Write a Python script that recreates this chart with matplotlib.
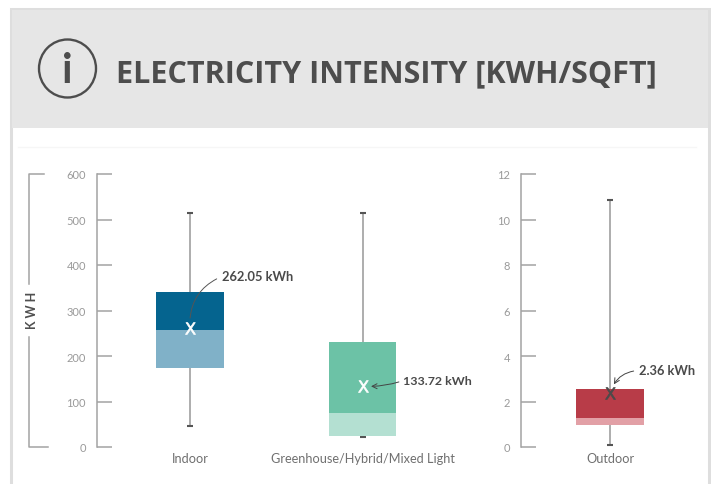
import matplotlib
matplotlib.use("Agg")
import matplotlib.pyplot as plt
from matplotlib.patches import Rectangle, Ellipse

W, H = 711, 485

categories = ["Indoor", "Greenhouse/Hybrid/Mixed Light"]
whisker_low = [46, 21]
q1 = [173, 25]
median = [256.5, 74]
q3 = [340.5, 231]
whisker_high = [515, 515]
means = [262.05, 133.72]
dark_colors = ["#05648f", "#6cc2a6"]
light_colors = ["#80b1c8", "#b4e0d2"]
left_ticks = [0, 100, 200, 300, 400, 500, 600]

out_category = ["Outdoor"]
out_whisker_low = [0.09]
out_q1 = [0.95]
out_median = [1.29]
out_q3 = [2.53]
out_whisker_high = [10.87]
out_means = [2.36]
out_ticks = [0, 2, 4, 6, 8, 10, 12]

axis_color = "#a3a3a3"
tick_text = "#9a9a9a"
label_text = "#707070"
note_text = "#4a4a4a"
font = "Lato"
x_mark = r"$\mathrm{X}$"

fig = plt.figure(figsize=(W / 100, H / 100), dpi=100)

# card background, drawn in pixel coordinates
bg = fig.add_axes([0, 0, 1, 1])
bg.set_xlim(0, W)
bg.set_ylim(H, 0)
bg.axis("off")
bg.add_patch(Rectangle((11, 10), 698, 480, fc="white", ec="#dedede", lw=2.2))
bg.add_patch(Rectangle((12, 11), 696, 118, fc="#e6e6e6", ec="none"))
bg.plot([18, 696], [147.5, 147.5], color="#f6f6f6", lw=1)
bg.add_patch(Ellipse((67.5, 69.5), 57, 58, fc="none", ec="#4d4d4d", lw=1.7))
bg.text(67.5, 71, "i", fontsize=30, color="#4d4d4d", ha="center", va="center",
        family="Lato", fontweight="bold")
bg.text(116, 74.5, "ELECTRICITY INTENSITY [KWH/SQFT]", fontsize=22, color="#4d4d4d",
        fontweight="bold", family="Open Sans", ha="left", va="center")

# KWH bracket
bg.plot([44, 28.5, 28.5], [174.5, 174.5, 285], color=axis_color, lw=1.1)
bg.plot([28.5, 28.5, 48], [338, 447.5, 447.5], color=axis_color, lw=1.1)
bg.text(31.5, 310, "K W H", rotation=90, fontsize=9, color="#4f4f4f", family=font,
        fontweight="bold", ha="center", va="center")


def make_axes(x0, x1):
    ax = fig.add_axes([x0 / W, 1 - 448 / H, (x1 - x0) / W, 273 / H])
    ax.patch.set_alpha(0)
    for side in ["top", "right", "bottom"]:
        ax.spines[side].set_visible(False)
    ax.spines["left"].set_color(axis_color)
    ax.spines["left"].set_linewidth(1.1)
    ax.tick_params(axis="y", direction="in", length=10.5, width=1.1, color=axis_color,
                   labelcolor=tick_text, labelsize=8, pad=8)
    ax.tick_params(axis="x", length=0, labelcolor=label_text, labelsize=9.2, pad=3.5)
    return ax


def set_fonts(ax):
    for t in ax.get_xticklabels() + ax.get_yticklabels():
        t.set_family(font)


def draw_boxes(ax, pos, lo, a, m, b, hi, dark, light, width):
    ax.vlines(pos, lo, hi, color="#a0a0a0", lw=1.2, zorder=1)
    ax.plot(pos, lo, ls="none", marker="_", ms=3.8, mew=1.5, color="#555555", zorder=1)
    ax.plot(pos, hi, ls="none", marker="_", ms=3.8, mew=1.5, color="#555555", zorder=1)
    ax.bar(pos, [y - x for x, y in zip(a, m)], bottom=a, width=width, color=light, zorder=2)
    ax.bar(pos, [y - x for x, y in zip(m, b)], bottom=m, width=width, color=dark, zorder=2)


# left axes, 172.7 px between categories
left_ax = make_axes(97, 480)
pos = list(range(len(categories)))
draw_boxes(left_ax, pos, whisker_low, q1, median, q3, whisker_high,
           dark_colors, light_colors, 0.39)
left_ax.plot(pos, means, ls="none", marker=x_mark, ms=8.5, mew=0.5, color="white", zorder=3)
left_ax.set_xlim(-93 / 172.7, (480 - 190) / 172.7)
left_ax.set_ylim(0, 600)
left_ax.set_yticks(left_ticks)
left_ax.set_xticks(pos, categories)
set_fonts(left_ax)

left_ax.annotate(f"{means[0]:.2f} kWh", xy=(pos[0], means[0]), xytext=(23, 37),
                 textcoords="offset points", fontsize=9.3, fontweight="bold", color=note_text,
                 family=font, va="center",
                 arrowprops=dict(arrowstyle="-", color="#555555", lw=0.7, relpos=(0, 0.5),
                                 shrinkA=2, shrinkB=7, connectionstyle="arc3,rad=0.35"))
left_ax.annotate(f"{means[1]:.2f} kWh", xy=(pos[1], means[1]), xytext=(29, 4),
                 textcoords="offset points", fontsize=8.9, fontweight="bold", color=note_text,
                 family=font, va="center",
                 arrowprops=dict(arrowstyle="->", color="#444444", lw=0.7, relpos=(0, 0.5),
                                 shrinkA=1, shrinkB=6, connectionstyle="arc3,rad=-0.1"))

# right axes
right_ax = make_axes(521, 690)
out_pos = list(range(len(out_category)))
draw_boxes(right_ax, out_pos, out_whisker_low, out_q1, out_median, out_q3, out_whisker_high,
           ["#b83c48"], ["#e2a0a6"], 67.7)
right_ax.plot(out_pos, out_means, ls="none", marker=x_mark, ms=8.5, mew=0.5, color="#4a4a4a", zorder=3)
right_ax.set_xlim(-89, 80)
right_ax.set_ylim(0, 12)
right_ax.set_yticks(out_ticks)
right_ax.set_xticks(out_pos, out_category)
set_fonts(right_ax)

right_ax.annotate(f"{out_means[0]:.2f} kWh", xy=(out_pos[0], out_means[0]), xytext=(21, 16.5),
                  textcoords="offset points", fontsize=9.3, fontweight="bold", color=note_text,
                  family=font, va="center",
                  arrowprops=dict(arrowstyle="->", color="#444444", lw=0.7, relpos=(0, 0.5),
                                  shrinkA=2, shrinkB=7, connectionstyle="arc3,rad=0.35"))

fig.savefig("out.png", dpi=100)
